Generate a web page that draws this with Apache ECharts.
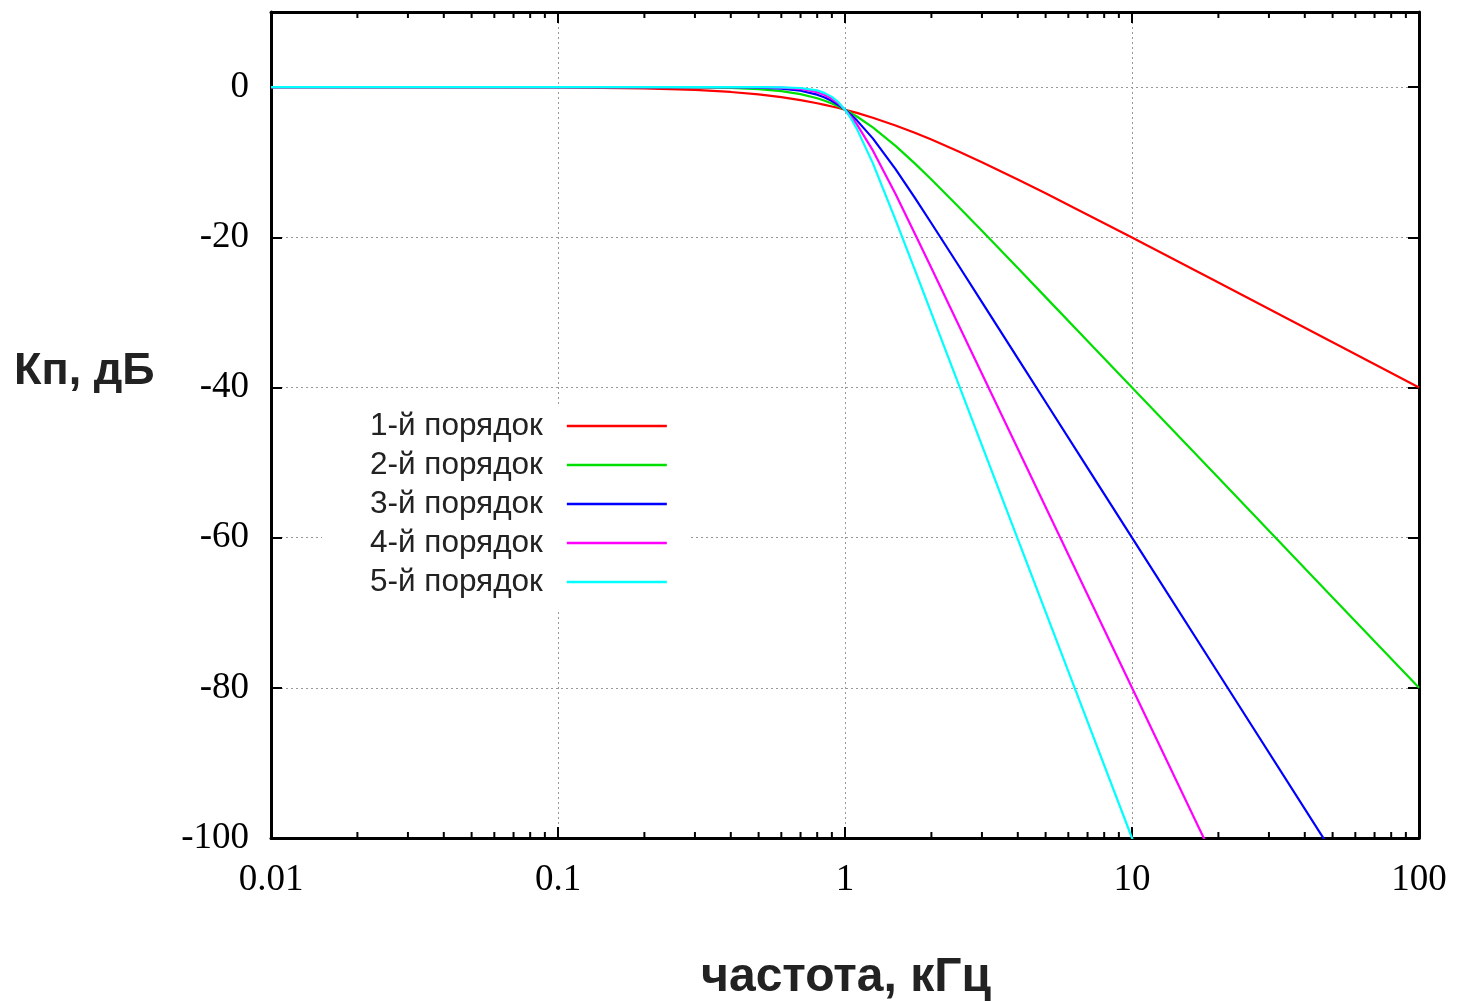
<!DOCTYPE html>
<html>
<head>
<meta charset="utf-8">
<script src="https://cdn.jsdelivr.net/npm/echarts@6/dist/echarts.min.js"></script>
<style>
html,body{margin:0;padding:0;background:#fff;}
#chart{width:1458px;height:1001px;}
</style>
</head>
<body>
<div id="chart"></div>
<script>
// Frequencies (kHz) at which values were read
const freq = [0.01, 0.1, 0.2, 0.3, 0.4, 0.5, 0.6, 0.7, 0.8, 0.85, 0.9, 0.95, 1, 1.05, 1.1, 1.25, 1.5, 1.75, 2, 2.5, 3, 4, 5, 7, 10, 20, 50, 100];
// Gain (dB) for each filter order
const order1 = [0, -0.04, -0.17, -0.37, -0.65, -0.97, -1.34, -1.73, -2.15, -2.36, -2.58, -2.79, -3.01, -3.23, -3.44, -4.09, -5.12, -6.09, -6.99, -8.60, -10.0, -12.30, -14.15, -16.99, -20.04, -26.03, -33.98, -40.0];
const order2 = [0, 0, -0.01, -0.04, -0.11, -0.26, -0.53, -0.93, -1.49, -1.82, -2.19, -2.59, -3.01, -3.46, -3.92, -5.37, -7.83, -10.16, -12.30, -16.03, -19.14, -24.10, -27.97, -33.81, -40.0, -52.04, -67.96, -80.0];
const order3 = [0, 0, 0, 0, -0.02, -0.07, -0.2, -0.48, -1.01, -1.39, -1.85, -2.39, -3.01, -3.69, -4.43, -6.83, -10.93, -14.73, -18.13, -23.89, -28.63, -36.12, -41.94, -50.71, -60.0, -78.06, -101.94, -120];
const order4 = [0, 0, 0, 0, 0, -0.02, -0.07, -0.24, -0.67, -1.06, -1.56, -2.21, -3.01, -3.94, -4.97, -8.43, -14.25, -19.49, -24.1, -31.84, -38.17, -48.16, -55.92, -67.61, -80, -104.08, -135.92, -160];
const order5 = [0, 0, 0, 0, 0, 0, -0.03, -0.12, -0.44, -0.80, -1.3, -2.04, -3.01, -4.20, -5.56, -10.13, -17.68, -24.32, -30.11, -39.79, -47.71, -60.21, -69.9, -84.51, -100, -130.1, -169.9, -200];
const seriesNames = ['1-й порядок', '2-й порядок', '3-й порядок', '4-й порядок', '5-й порядок'];
const seriesColors = ['#ff0000', '#00e000', '#0000ff', '#ff00ff', '#00ffff'];
const xTickLabels = ['0.01', '0.1', '1', '10', '100'];
const yTickLabels = ['-100', '-80', '-60', '-40', '-20', '0'];
const minorTicks = [0.02,0.03,0.04,0.05,0.06,0.07,0.08,0.09, 0.2,0.3,0.4,0.5,0.6,0.7,0.8,0.9, 2,3,4,5,6,7,8,9, 20,30,40,50,60,70,80,90];
const xTitle = 'частота, кГц';
const yTitle = 'Кп, дБ';

const allOrders = [order1, order2, order3, order4, order5];
const X_MIN = 0.01, X_MAX = 100, Y_MIN = -100, Y_MAX = 10;

const chart = echarts.init(document.getElementById('chart'), null, {renderer: 'canvas'});

const lineSeries = allOrders.map((arr, i) => ({
  name: seriesNames[i],
  type: 'line',
  xAxisIndex: 0, yAxisIndex: 0,
  data: freq.map((f, k) => [f, arr[k]]),
  showSymbol: false,
  symbol: 'none',
  smooth: false,
  clip: true,
  lineStyle: {color: seriesColors[i], width: 2.2},
  itemStyle: {color: seriesColors[i]},
  z: 3 + i
}));

const minorSeries = {
  type: 'custom',
  name: 'minor',
  xAxisIndex: 0, yAxisIndex: 0,
  silent: true,
  clip: false,
  z: 20,
  data: minorTicks.map(v => [v, Y_MIN]),
  encode: {x: 0, y: 1},
  renderItem: function (params, api) {
    const v = api.value(0);
    const b = api.coord([v, Y_MIN]);
    const t = api.coord([v, Y_MAX]);
    const st = {stroke: '#000', lineWidth: 2};
    return {
      type: 'group',
      children: [
        {type: 'line', shape: {x1: b[0], y1: b[1], x2: b[0], y2: b[1] - 6}, style: st},
        {type: 'line', shape: {x1: t[0], y1: t[1], x2: t[0], y2: t[1] + 6}, style: st}
      ]
    };
  }
};

const gridLine = {show: true, lineStyle: {color: '#999', width: 1, type: [2, 3]}};
const frameLine = {show: true, onZero: false, lineStyle: {color: '#000', width: 3}};
const majorTick = {show: true, inside: true, length: 11, lineStyle: {color: '#000', width: 2}};

chart.setOption({
  animation: false,
  backgroundColor: '#fff',
  grid: {left: 271, right: 39, top: 12, bottom: 163, containLabel: false},
  xAxis: [{
    type: 'log', logBase: 10, min: X_MIN, max: X_MAX, position: 'bottom',
    axisLine: frameLine, axisTick: majorTick,
    axisLabel: {
      show: true, margin: 24, color: '#000', fontFamily: 'Liberation Serif', fontSize: 37,
      formatter: v => xTickLabels[Math.round(Math.log10(v)) + 2]
    },
    splitLine: gridLine
  }, {
    type: 'log', logBase: 10, min: X_MIN, max: X_MAX, position: 'top',
    axisLine: frameLine, axisTick: majorTick,
    axisLabel: {show: false}, splitLine: {show: false}
  }],
  yAxis: [{
    type: 'value', min: Y_MIN, max: Y_MAX, interval: 20, position: 'left',
    axisLine: frameLine, axisTick: majorTick,
    axisLabel: {
      show: true, margin: 22, color: '#000', fontFamily: 'Liberation Serif', fontSize: 37,
      showMaxLabel: false,
      formatter: v => { const k = Math.round((v - Y_MIN) / 20); return (v <= 0) ? yTickLabels[k] : ''; }
    },
    splitLine: gridLine
  }, {
    type: 'value', min: Y_MIN, max: Y_MAX, interval: 20, position: 'right',
    axisLine: frameLine, axisTick: majorTick,
    axisLabel: {show: false}, splitLine: {show: false}
  }],
  legend: {
    data: seriesNames,
    orient: 'vertical',
    align: 'right',
    left: 322,
    top: 404,
    backgroundColor: '#fff',
    padding: [6, 23, 14, 48],
    itemGap: 7,
    itemWidth: 100,
    itemHeight: 2.5,
    icon: 'rect',
    textStyle: {fontFamily: 'Liberation Sans', fontSize: 31.5, color: '#222', padding: [0, 19, 0, 0]},
    selectedMode: false
  },
  graphic: [
    {type: 'text', x: 14, y: 372, style: {text: yTitle, font: 'bold 45px "Liberation Sans"', fill: '#222', textAlign: 'left', textVerticalAlign: 'middle'}},
    {type: 'text', x: 846, y: 978, style: {text: xTitle, font: 'bold 48px "Liberation Sans"', fill: '#222', textAlign: 'center', textVerticalAlign: 'middle'}}
  ],
  series: lineSeries.concat([minorSeries])
});
</script>
</body>
</html>
